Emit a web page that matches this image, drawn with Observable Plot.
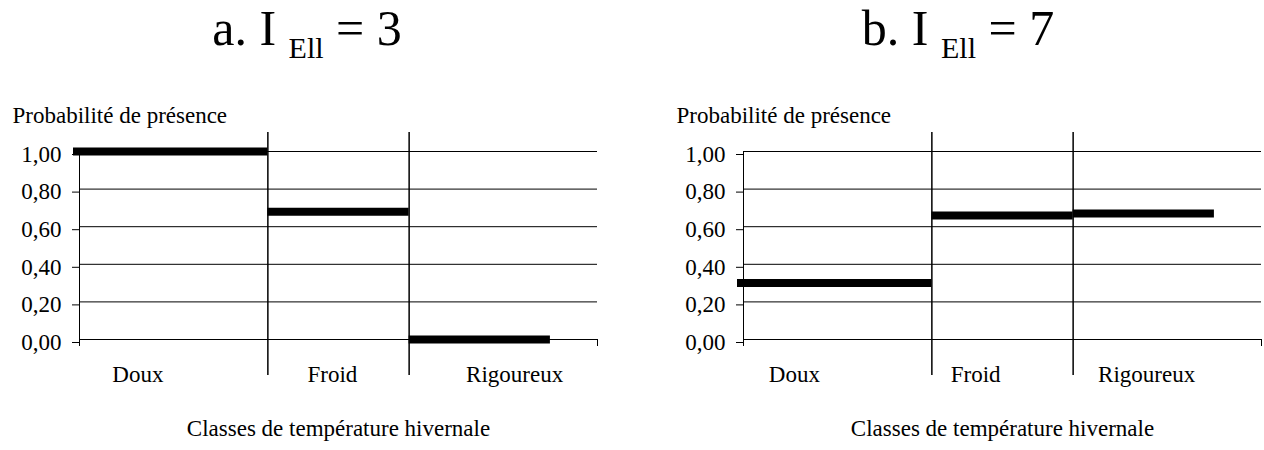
<!DOCTYPE html>
<html><head><meta charset="utf-8">
<script src="https://cdn.jsdelivr.net/npm/d3@7"></script>
<script src="https://cdn.jsdelivr.net/npm/@observablehq/plot@0.6"></script>
</head><body style="margin:0;background:#fff;overflow:hidden;font-family:'Liberation Serif'">
<div id="root" style="position:relative;width:1264px;height:450px;color:#000;font-family:'Liberation Serif'"></div>
<script>
// Data
const classes = ["Doux", "Froid", "Rigoureux"];
const classStart = [0, 4, 7];     // class limits on the x axis (class units)
const classEnd = [4, 7, 10];
const xMax = 11;
const separators = [4, 7];
const probA = [1.00, 0.68, 0.00];  // a. I Ell = 3
const probB = [0.30, 0.66, 0.67];  // b. I Ell = 7
const labelAtA = [1.24, 5.37, 9.24];
const labelAtB = [1.08, 4.93, 8.56];
const yTicks = [0, 0.2, 0.4, 0.6, 0.8, 1.0];
const yTitle = "Probabilité de présence";
const xTitle = "Classes de température hivernale";
const panels = [
  {letter: "a.", index: "3", values: probA, labels: labelAtA, left: 0, titleCenter: 307},
  {letter: "b.", index: "7", values: probB, labels: labelAtB, left: 664, titleCenter: 294}
];

const FONT = "Liberation Serif, serif";
const fmt = d => d.toFixed(2).replace(".", ",");

function chart(values, labelAt) {
  const rows = classes.map((c, i) => ({cls: c, p: values[i], x1: classStart[i], x2: classEnd[i], lx: labelAt[i]}));
  const first = rows.filter(r => r.x1 === 0);
  const others = rows.filter(r => r.x1 !== 0);
  return Plot.plot({
    width: 600, height: 370,
    marginLeft: 79, marginRight: 3, marginTop: 71, marginBottom: 111,
    style: {fontFamily: FONT, fontSize: "23px", background: "white", color: "black", overflow: "visible"},
    x: {domain: [0, xMax], label: null},
    y: {domain: [0, 1], label: null},
    marks: [
      Plot.ruleY(yTicks, {stroke: "black", strokeWidth: 1}),
      Plot.ruleX([0], {stroke: "black", strokeWidth: 1}),
      Plot.axisX({ticks: [0, xMax], tickSize: 7, tickFormat: () => "", label: null, stroke: "black"}),
      Plot.ruleX(separators, {stroke: "black", strokeWidth: 1.5, insetTop: -19, insetBottom: -36}),
      Plot.ruleY(first, {y: "p", x1: "x1", x2: "x2", stroke: "black", strokeWidth: 8, insetLeft: -6}),
      Plot.ruleY(others, {y: "p", x1: "x1", x2: "x2", stroke: "black", strokeWidth: 8}),
      Plot.axisY({ticks: yTicks, tickSize: 7, tickPadding: 11, tickFormat: fmt, label: null, fontSize: 23, fontFamily: FONT, dy: 3, stroke: "black"}),
      Plot.text(rows, {x: "lx", text: "cls", frameAnchor: "bottom", dy: 42, fontSize: 23, fontFamily: FONT, fill: "black"}),
      Plot.text([xTitle], {frameAnchor: "bottom", dy: 96, fontSize: 23, fontFamily: FONT, fill: "black"}),
      Plot.text([yTitle], {frameAnchor: "top-left", dx: -67, dy: -45, textAnchor: "start", fontSize: 23, fontFamily: FONT, fill: "black"})
    ]
  });
}

const root = document.getElementById("root");
for (const p of panels) {
  const div = document.createElement("div");
  Object.assign(div.style, {position: "absolute", top: "0px", left: p.left + "px", width: "600px", height: "450px"});
  const t = document.createElement("div");
  Object.assign(t.style, {position: "absolute", top: "3px", left: (p.titleCenter - 200) + "px", width: "400px",
    textAlign: "center", fontSize: "50px", lineHeight: "50px", whiteSpace: "nowrap", fontFamily: FONT});
  t.append(`${p.letter} I `);
  const sub = document.createElement("span");
  Object.assign(sub.style, {fontSize: "30px", position: "relative", top: "13px"});
  sub.textContent = "Ell";
  t.append(sub, ` = ${p.index}`);
  div.appendChild(t);
  const c = document.createElement("div");
  Object.assign(c.style, {position: "absolute", top: "80px", left: "0px"});
  c.appendChild(chart(p.values, p.labels));
  div.appendChild(c);
  root.appendChild(div);
}
</script>
</body></html>
